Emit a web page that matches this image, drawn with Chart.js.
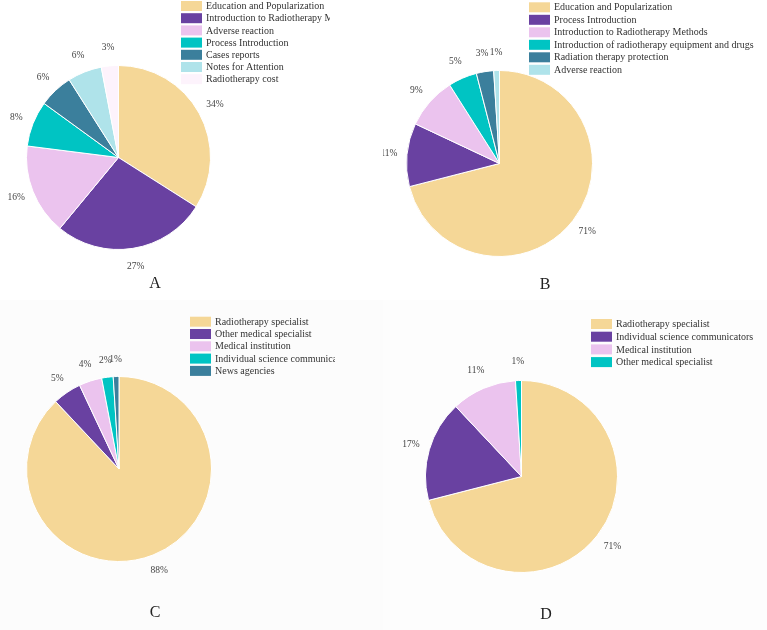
<!DOCTYPE html>
<html>
<head>
<meta charset="utf-8">
<script src="https://cdn.jsdelivr.net/npm/chart.js@4.4.0/dist/chart.umd.min.js"></script>
<style>
  html, body { margin: 0; padding: 0; background: #ffffff; }
  #wrap { position: relative; width: 767px; height: 630px; overflow: hidden; }
  .panel { position: absolute; }
  canvas { display: block; }
</style>
</head>
<body>
<div id="wrap">
  <div class="panel" style="left:0;top:0;width:383px;height:300px;background:#ffffff"><canvas id="cA" width="383" height="300"></canvas></div>
  <div class="panel" style="left:383px;top:0;width:384px;height:300px;background:#ffffff"><canvas id="cB" width="384" height="300"></canvas></div>
  <div class="panel" style="left:0;top:300px;width:383px;height:330px;background:#fcfcfc"><canvas id="cC" width="383" height="330"></canvas></div>
  <div class="panel" style="left:383px;top:300px;width:384px;height:330px;background:#fdfdfd"><canvas id="cD" width="384" height="330"></canvas></div>
</div>
<script>
// ---- data ----
const categoriesA = ["Education and Popularization", "Introduction to Radiotherapy Methods", "Adverse reaction", "Process Introduction", "Cases reports", "Notes for Attention", "Radiotherapy cost"];
const valuesA = [34, 27, 16, 8, 6, 6, 3];

const categoriesB = ["Education and Popularization", "Process Introduction", "Introduction to Radiotherapy Methods", "Introduction of radiotherapy equipment and drugs", "Radiation therapy protection", "Adverse reaction"];
const valuesB = [71, 11, 9, 5, 3, 1];

const categoriesC = ["Radiotherapy specialist", "Other medical specialist", "Medical institution", "Individual science communicators", "News agencies"];
const valuesC = [88, 5, 4, 2, 1];

const categoriesD = ["Radiotherapy specialist", "Individual science communicators", "Medical institution", "Other medical specialist"];
const valuesD = [71, 17, 11, 1];

const panelLetters = ["A", "B", "C", "D"];

const palette = ["#f5d797", "#6941a1", "#ebc3ee", "#00c4c3", "#3b7f9c", "#afe3ea", "#fdf3fc"];

const SERIF = "'Liberation Serif', 'Times New Roman', serif";

// ---- plugin: outside percentage labels, legend, panel letter ----
const decorPlugin = {
  id: 'decor',
  afterDraw(chart, args, opts) {
    const ctx = chart.ctx;
    const meta = chart.getDatasetMeta(0);
    const data = chart.data.datasets[0].data;
    ctx.save();
    // percentage labels
    ctx.font = "9.5px " + SERIF;
    ctx.fillStyle = "#444";
    ctx.textAlign = "center";
    ctx.textBaseline = "middle";
    meta.data.forEach((arc, i) => {
      const p = arc.getProps(['x', 'y', 'startAngle', 'endAngle', 'outerRadius'], true);
      const mid = (p.startAngle + p.endAngle) / 2;
      const d = p.outerRadius + opts.labelGap;
      ctx.fillText(data[i] + "%", p.x + Math.cos(mid) * d, p.y + Math.sin(mid) * d);
    });
    // legend
    const lg = opts.legend;
    ctx.save();
    ctx.beginPath();
    ctx.rect(0, 0, lg.clip, chart.height);
    ctx.clip();
    ctx.font = "10px " + SERIF;
    ctx.textAlign = "left";
    ctx.textBaseline = "middle";
    chart.data.labels.forEach((lab, i) => {
      const cy = lg.y + i * lg.step;
      ctx.fillStyle = chart.data.datasets[0].backgroundColor[i];
      ctx.fillRect(lg.x, cy - 5, 21, 10);
      ctx.fillStyle = "#333";
      ctx.fillText(lab, lg.x + 25, cy + 0.5);
    });
    ctx.restore();
    // letter
    ctx.font = "16px " + SERIF;
    ctx.fillStyle = "#222";
    ctx.textAlign = "center";
    ctx.textBaseline = "middle";
    ctx.fillText(opts.letter, opts.letterX, opts.letterY);
    ctx.restore();
  }
};

function makePie(id, labels, values, padding, legend, letter, letterX, letterY, labelGap) {
  new Chart(document.getElementById(id), {
    type: 'pie',
    data: {
      labels: labels,
      datasets: [{
        data: values,
        backgroundColor: palette.slice(0, values.length),
        borderColor: '#ffffff',
        borderWidth: 1,
        hoverBorderWidth: 1,
        hoverOffset: 0
      }]
    },
    options: {
      responsive: false,
      animation: false,
      layout: { padding: padding },
      plugins: {
        legend: { display: false },
        tooltip: { enabled: false },
        decor: { legend: legend, letter: letter, letterX: letterX, letterY: letterY, labelGap: labelGap }
      }
    },
    plugins: [decorPlugin]
  });
}

makePie('cA', categoriesA, valuesA, {left: 26, top: 65, right: 172, bottom: 50},
  {x: 181, y: 6, step: 12.2, clip: 330}, panelLetters[0], 155, 284, 18);
makePie('cB', categoriesB, valuesB, {left: 23, top: 70, right: 174, bottom: 43},
  {x: 146, y: 7.3, step: 12.5, clip: 384}, panelLetters[1], 162, 285, 18);
makePie('cC', categoriesC, valuesC, {left: 26, top: 76, right: 171, bottom: 68},
  {x: 190, y: 21.7, step: 12.3, clip: 335}, panelLetters[2], 155, 313, 17);
makePie('cD', categoriesD, valuesD, {left: 42, top: 80, right: 149, bottom: 57},
  {x: 208, y: 24, step: 12.7, clip: 384}, panelLetters[3], 163, 315, 19);
</script>
</body>
</html>
